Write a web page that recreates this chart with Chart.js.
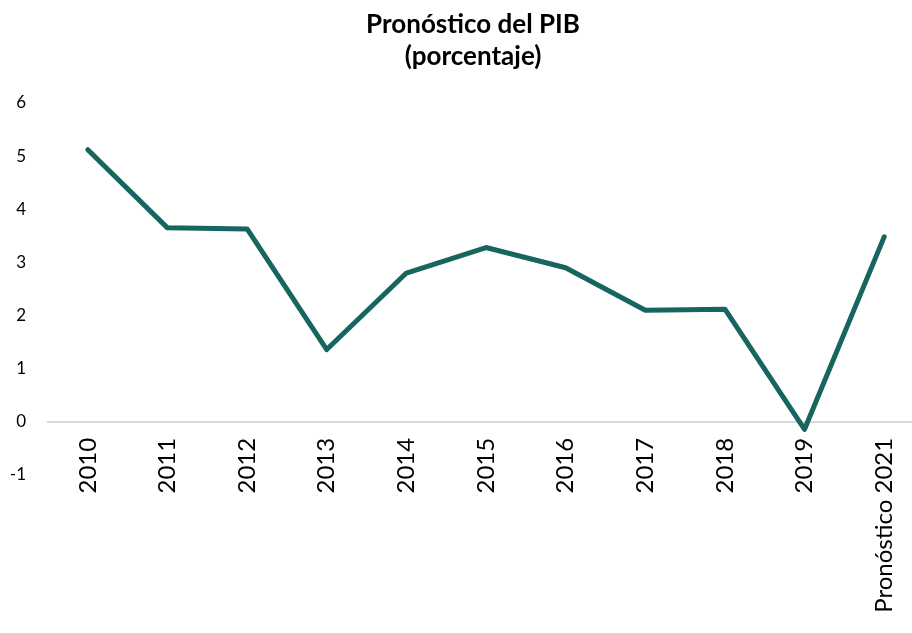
<!DOCTYPE html>
<html>
<head>
<meta charset="utf-8">
<script src="https://cdn.jsdelivr.net/npm/chart.js@4"></script>
<style>
  html, body { margin: 0; padding: 0; background: #fff; overflow: hidden; }
  #wrap { width: 944px; height: 633px; }
</style>
</head>
<body>
<div id="wrap"><canvas id="pib" width="944" height="633"></canvas></div>
<script>
// Pronóstico del PIB (porcentaje)
const years = ['2010', '2011', '2012', '2013', '2014', '2015', '2016', '2017', '2018', '2019', 'Pronóstico 2021'];
const pibValues = [5.12, 3.65, 3.63, 1.36, 2.8, 3.28, 2.9, 2.1, 2.12, -0.14, 3.48];
const yTicks = [-1, 0, 1, 2, 3, 4, 5, 6];

const teal = '#17655f';

// the title sits a bit right of the plot centre in the original
const titleShift = {
    id: 'titleShift',
    afterLayout(chart) {
        const t = chart.titleBlock;
        if (!t) return;
        t.left += 11;
        t.right += 11;
    }
};

new Chart(document.getElementById('pib').getContext('2d'), {
    type: 'line',
    data: {
        labels: years,
        datasets: [{
            label: 'PIB',
            data: pibValues,
            borderColor: teal,
            borderWidth: 5,
            borderCapStyle: 'round',
            borderJoinStyle: 'round',
            pointRadius: 0,
            tension: 0,
            fill: false
        }]
    },
    options: {
        responsive: false,
        animation: false,
        layout: { padding: { top: 0, left: 0, right: 20, bottom: 158 } },
        scales: {
            x: {
                type: 'category',
                position: { y: 0 },
                offset: true,
                grid: { display: false, drawTicks: false },
                border: { display: true, color: '#d9d9d9', width: 2 },
                ticks: {
                    maxRotation: 90,
                    minRotation: 90,
                    padding: 16,
                    color: '#000',
                    font: { family: 'Lato', size: 24 }
                }
            },
            y: {
                min: -1,
                max: 6,
                afterBuildTicks: (scale) => {
                    scale.ticks = yTicks.map(v => ({ value: v }));
                },
                afterFit: (scale) => { scale.width = 48; },
                grid: { display: false, drawTicks: false },
                border: { display: false },
                ticks: {
                    padding: 22,
                    color: '#000',
                    font: { family: 'Lato', size: 17 }
                }
            }
        },
        plugins: {
            legend: { display: false },
            tooltip: { enabled: false },
            title: {
                display: true,
                text: ['Pronóstico del PIB', '(porcentaje)'],
                color: '#000',
                font: { family: 'Lato', size: 26, weight: 'bold', lineHeight: 1.23 },
                padding: { top: 9, bottom: 30 }
            }
        }
    },
    plugins: [titleShift]
});
</script>
</body>
</html>
